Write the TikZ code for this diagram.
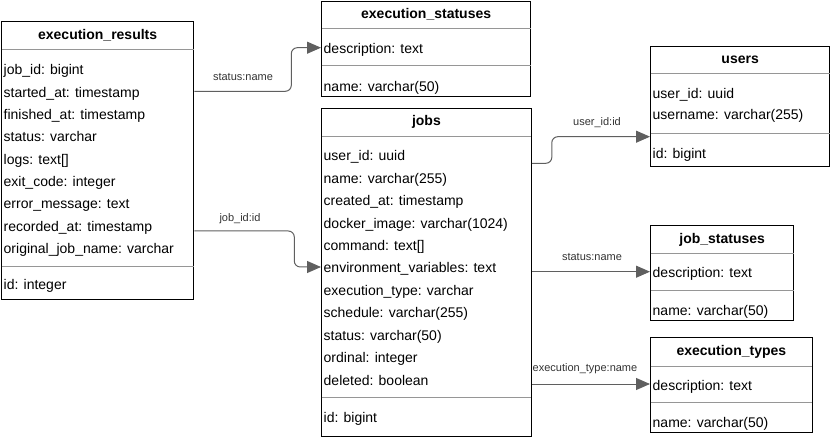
\documentclass[tikz,border=0pt]{standalone}
\usepackage{fontspec}
\setmainfont{Liberation Sans}
\usetikzlibrary{arrows.meta,positioning,calc}
\definecolor{sepgray}{RGB}{150,150,150}
\definecolor{linkgray}{RGB}{95,95,95}

\begin{document}
\begin{tikzpicture}[x=1pt,y=-1pt,
	table/.style 2 args={draw,line width=1pt,anchor=north west,inner sep=0pt,minimum width=#1,minimum height=#2},
	title/.style={font=\fontsize{14}{16}\selectfont\bfseries,inner sep=0pt,text height=14pt,text depth=2pt},
	field/.style={anchor=west,inner xsep=2.5pt,inner ysep=0pt,text height=14pt,text depth=2pt,font=\fontsize{14}{16}\selectfont},
	sep/.style={sepgray,line width=0.8pt},
	link/.style={linkgray,line width=1pt,rounded corners=6pt,-{Triangle[length=14pt,width=12pt]}},
	lbl/.style={font=\fontsize{11}{13}\selectfont,text=black!80,inner sep=1pt}]

\useasboundingbox (0,0) rectangle (830,438);

\node [table={192.3pt}{278pt}] (er) at (1,21) {};
\node [table={209.3pt}{95pt}] (es) at (321,1) {};
\node [table={209.8pt}{327.7pt}] (jobs) at (321,108.3) {};
\node [table={179.3pt}{120.3pt}] (users) at (650,45.7) {};
\node [table={143.3pt}{95pt}] (js) at (650,225) {};
\node [table={161.7pt}{95pt}] (et) at (650,337.3) {};

\node [title] (er-t) at ([yshift=-13]er.north) {execution\_results};
\node [title] (es-t) at ([yshift=-11.5]es.north) {execution\_statuses};
\node [title] (jobs-t) at ([yshift=-11.5]jobs.north) {jobs};
\node [title] (users-t) at ([yshift=-11.8]users.north) {users};
\node [title] (js-t) at ([yshift=-13]js.north) {job\_statuses};
\node [title] (et-t) at ([yshift=-12.3]et.north) {execution\_types};

\foreach \t [count=\i] in {job\_id: bigint, started\_at: timestamp, finished\_at: timestamp, status: varchar, logs: text[], exit\_code: integer, error\_message: text, recorded\_at: timestamp, original\_job\_name: varchar}
	\node [field] (er-\i) at ([yshift=-25.7-22.3*\i]er.north west) {\t};
\node [field] (er-id) at ([yshift=-262.3]er.north west) {id: integer};

\foreach \t [count=\i] in {user\_id: uuid, name: varchar(255), created\_at: timestamp, docker\_image: varchar(1024), command: text[], environment\_variables: text, execution\_type: varchar, schedule: varchar(255), status: varchar(50), ordinal: integer, deleted: boolean}
	\node [field] (jobs-\i) at ([yshift=-24.3-22.4*\i]jobs.north west) {\t};
\node [field] (jobs-id) at ([yshift=-307.7]jobs.north west) {id: bigint};

\node [field] (users-1) at ([yshift=-46.6]users.north west) {user\_id: uuid};
\node [field] (users-2) at ([yshift=-67.8]users.north west) {username: varchar(255)};
\node [field] (users-id) at ([yshift=-106.6]users.north west) {id: bigint};

\foreach \n in {es,js,et} {
	\node [field] (\n-1) at ([yshift=-46.7]\n.north west) {description: text};
	\node [field] (\n-2) at ([yshift=-84.5]\n.north west) {name: varchar(50)};
}

\foreach \n/\a/\b in {er/28.3/245, es/27.3/64.7, jobs/27.7/289, users/27.6/87.6, js/28.3/65.7, et/28.7/65.4} {
	\draw [sep] ([yshift=-\a,xshift=0.5]\n.north west) -- ([yshift=-\a,xshift=-0.5]\n.north east);
	\draw [sep] ([yshift=-\b,xshift=0.5]\n.north west) -- ([yshift=-\b,xshift=-0.5]\n.north east);
}

\draw [link] (er.east |- er-2) -- ++(97,0) |- (es.west |- es-1);
\draw [link] ([yshift=-210]er.north east) -- ++(100,0) |- (jobs.west |- jobs-6);
\draw [link] ([yshift=-55]jobs.north east) -- ++(20,0) |- ([yshift=-91]users.north west);
\draw [link] (jobs.east |- js-1) -- (js.west |- js-1);
\draw [link] (jobs.east |- et-1) -- (et.west |- et-1);

\node [lbl] (l-es) at (243,77.5) {status:name};
\node [lbl] (l-jobs) at (240,218.5) {job\_id:id};
\node [lbl] (l-users) at (597,123) {user\_id:id};
\node [lbl] (l-js) at (592,256.5) {status:name};
\node [lbl] (l-et) at (585,368.5) {execution\_type:name};

\end{tikzpicture}
\end{document}
